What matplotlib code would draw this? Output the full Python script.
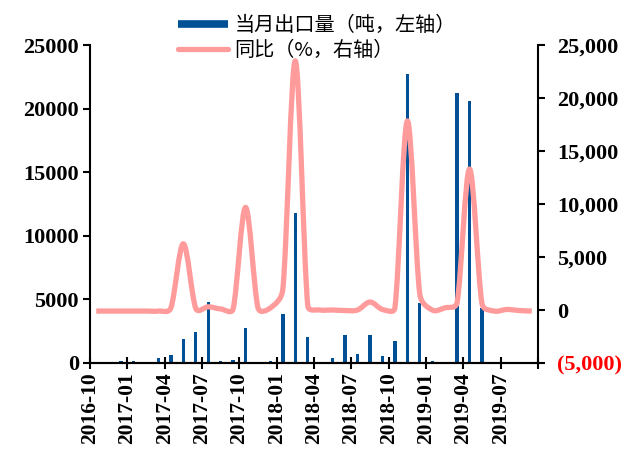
import numpy as np
import matplotlib.pyplot as plt
from matplotlib.path import Path
from matplotlib.patches import PathPatch
from matplotlib.lines import Line2D

plt.rcParams['font.family'] = ['Liberation Serif', 'Noto Sans CJK SC']

# monthly data, 2016-10 .. 2019-09
tick_labels = ['2016-10', '2017-01', '2017-04', '2017-07', '2017-10', '2018-01',
               '2018-04', '2018-07', '2018-10', '2019-01', '2019-04', '2019-07']
export_t = [0, 0, 180, 120, 0, 370, 600, 1860, 2460, 4820, 180, 240,
            2730, 80, 180, 3880, 11820, 2020, 80, 430, 2230, 700, 2200, 550,
            1700, 22720, 4690, 150, 0, 21200, 20620, 4300, 0, 0, 0, 0]
yoy_pct = [-100, -100, -100, -100, -100, -100, 200, 6250, 150, 300, 100, 100,
           9680, 200, 200, 2000, 23500, 400, 0, 0, -50, 0, 750, 50,
           200, 17830, 1500, 0, 200, 700, 13300, 600, -100, 50, -50, -100]
left_ticks = [0, 5000, 10000, 15000, 20000, 25000]
right_ticks = [-5000, 0, 5000, 10000, 15000, 20000, 25000]
right_labels = ['(5,000)', '0', '5,000', '10,000', '15,000', '20,000', '25,000']

BAR = '#005096'
LINE = '#FF9B9B'

fig = plt.figure(figsize=(6.29, 4.58), dpi=100)
ax = fig.add_axes([90 / 629, 95 / 458, 448 / 629, 318 / 458])

x = np.arange(len(export_t)) + 0.5
ax.bar(x, export_t, width=0.26, color=BAR)
ax.set_xlim(0, len(export_t))
ax.set_ylim(0, 25000)
ax.set_yticks(left_ticks)
ax.set_yticklabels([str(v) for v in left_ticks])
ax.set_xticks(np.arange(0, len(export_t) + 1, 3))
ax.set_xticklabels(tick_labels + [''], rotation=90)

ax2 = ax.twinx()
ax2.set_ylim(-5000, 25000)
ax2.set_yticks(right_ticks)
ax2.set_yticklabels(right_labels)
ax2.get_yticklabels()[0].set_color('red')

# excel-like smoothed line, control points worked out in pixel space
pts = ax2.transData.transform(np.column_stack([x, yoy_pct]))
n = len(pts)
verts = [pts[0]]
codes = [Path.MOVETO]
for i in range(n - 1):
    p0 = pts[max(i - 1, 0)]
    p1 = pts[i]
    p2 = pts[i + 1]
    p3 = pts[min(i + 2, n - 1)]
    d12 = np.hypot(*(p2 - p1))
    o1 = (p2 - p0) / 6
    o2 = (p3 - p1) / 6
    if np.hypot(*o1) > d12 / 2:
        o1 = o1 * (d12 / 2) / np.hypot(*o1)
    if np.hypot(*o2) > d12 / 2:
        o2 = o2 * (d12 / 2) / np.hypot(*o2)
    verts += [p1 + o1, p2 - o2, p2]
    codes += [Path.CURVE4] * 3
verts = ax2.transData.inverted().transform(np.array(verts))
ax2.add_patch(PathPatch(Path(verts, codes), fill=False, edgecolor=LINE,
                        lw=3.8, joinstyle='round', capstyle='butt'))

for a in (ax, ax2):
    a.spines['top'].set_visible(False)
    for s in ('left', 'right', 'bottom'):
        a.spines[s].set_linewidth(1.5)
ax2.spines['left'].set_visible(False)
ax.spines['right'].set_visible(False)

ax.tick_params(axis='y', direction='out', length=5, width=1.5, labelsize=16, pad=3)
ax.tick_params(axis='x', direction='inout', length=9, width=1.5, labelsize=15.5, pad=2)
ax2.tick_params(axis='y', direction='out', length=5, width=1.5, labelsize=16, pad=9)
for lbl in ax.get_xticklabels() + ax.get_yticklabels() + ax2.get_yticklabels():
    lbl.set_fontweight('bold')

handles = [Line2D([], [], color=BAR, lw=5.5, solid_capstyle='butt'),
           Line2D([], [], color=LINE, lw=3.8, solid_capstyle='round')]
fig.legend(handles, ['当月出口量（吨，左轴）', '同比（%，右轴）'],
           loc='upper left', bbox_to_anchor=(168 / 629, 0.99), frameon=False,
           prop={'family': ['Noto Sans CJK SC'], 'size': 14.5},
           handlelength=2.5, handletextpad=0.3, labelspacing=0.2,
           borderaxespad=0.1)

fig.savefig('out.png', dpi=100)
